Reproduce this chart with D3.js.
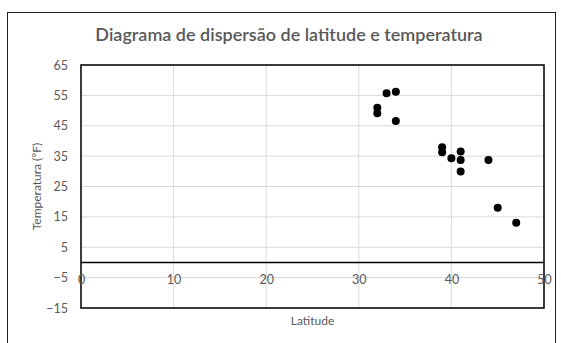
<!DOCTYPE html>
<html><head><meta charset="utf-8">
<script src="https://cdn.jsdelivr.net/npm/d3@7"></script>
<style>body{margin:0;background:#fff}svg{display:block}</style>
</head><body>
<script>
const latitude = [33, 34, 32, 32, 34, 39, 39, 40, 41, 41, 41, 44, 45, 47];
const temperature = [55.7, 56.2, 50.9, 49.1, 46.6, 37.9, 36.3, 34.3, 36.5, 33.7, 29.9, 33.7, 18.0, 13.1];
const xTicks = [0, 10, 20, 30, 40, 50];
const yTicks = [65, 55, 45, 35, 25, 15, 5, -5, -15];
const title = "Diagrama de dispersão de latitude e temperatura";
const xTitle = "Latitude";
const yTitle = "Temperatura (°F)";

const W = 561, H = 343;
const font = "Lato, 'Open Sans', sans-serif";
const svg = d3.select("body").append("svg").attr("width", W).attr("height", H);
svg.append("rect").attr("x", 7.5).attr("y", 12.5).attr("width", 548).attr("height", 340)
  .attr("fill", "#fff").attr("stroke", "#222").attr("stroke-width", 1);

const L = 81, R = 544, T = 65, B = 308;
const x = d3.scaleLinear().domain([0, 50]).range([L, R]);
const y = d3.scaleLinear().domain([-15, 65]).range([B, T]);

// gridlines
svg.append("g").selectAll("line").data(yTicks).join("line")
  .attr("x1", L).attr("x2", R).attr("y1", d => y(d)).attr("y2", d => y(d))
  .attr("stroke", "#d9d9d9").attr("stroke-width", 1);
svg.append("g").selectAll("line").data(xTicks).join("line")
  .attr("y1", T).attr("y2", B).attr("x1", d => x(d)).attr("x2", d => x(d))
  .attr("stroke", "#d9d9d9").attr("stroke-width", 1);

// plot border
svg.append("rect").attr("x", L).attr("y", T).attr("width", R - L).attr("height", B - T)
  .attr("fill", "none").attr("stroke", "#000").attr("stroke-width", 1.5);

// zero axis line
svg.append("line").attr("x1", L).attr("x2", R).attr("y1", y(0)).attr("y2", y(0))
  .attr("stroke", "#000").attr("stroke-width", 1.5);

// y axis labels
const yAxis = d3.axisLeft(y).tickValues(yTicks).tickSize(0).tickPadding(13);
const gy = svg.append("g").attr("transform", `translate(${L},0)`).call(yAxis);
gy.select(".domain").remove();
gy.selectAll("text").attr("fill", "#595959").attr("font-size", 12.5).attr("font-family", font);

// x axis labels (at y=0)
const xAxis = d3.axisBottom(x).tickValues(xTicks).tickSize(0).tickPadding(13);
const gx = svg.append("g").attr("transform", `translate(0,${y(0)})`).call(xAxis);
gx.select(".domain").remove();
gx.selectAll("text").attr("fill", "#595959").attr("font-size", 12.5).attr("font-family", font);

// points
svg.append("g").selectAll("circle").data(latitude.map((d, i) => [d, temperature[i]])).join("circle")
  .attr("cx", d => x(d[0])).attr("cy", d => y(d[1])).attr("r", 4).attr("fill", "#000");

// titles
svg.append("text").attr("x", 289).attr("y", 41).attr("text-anchor", "middle")
  .attr("font-family", font).attr("font-size", 18).attr("font-weight", 600).attr("fill", "#595959").text(title);
svg.append("text").attr("x", (L + R) / 2).attr("y", 325).attr("text-anchor", "middle")
  .attr("font-family", font).attr("font-size", 12).attr("fill", "#595959").text(xTitle);
svg.append("text").attr("transform", `translate(41,${(T + B) / 2}) rotate(-90)`).attr("text-anchor", "middle")
  .attr("font-family", font).attr("font-size", 12).attr("fill", "#595959").text(yTitle);
</script>
</body></html>
